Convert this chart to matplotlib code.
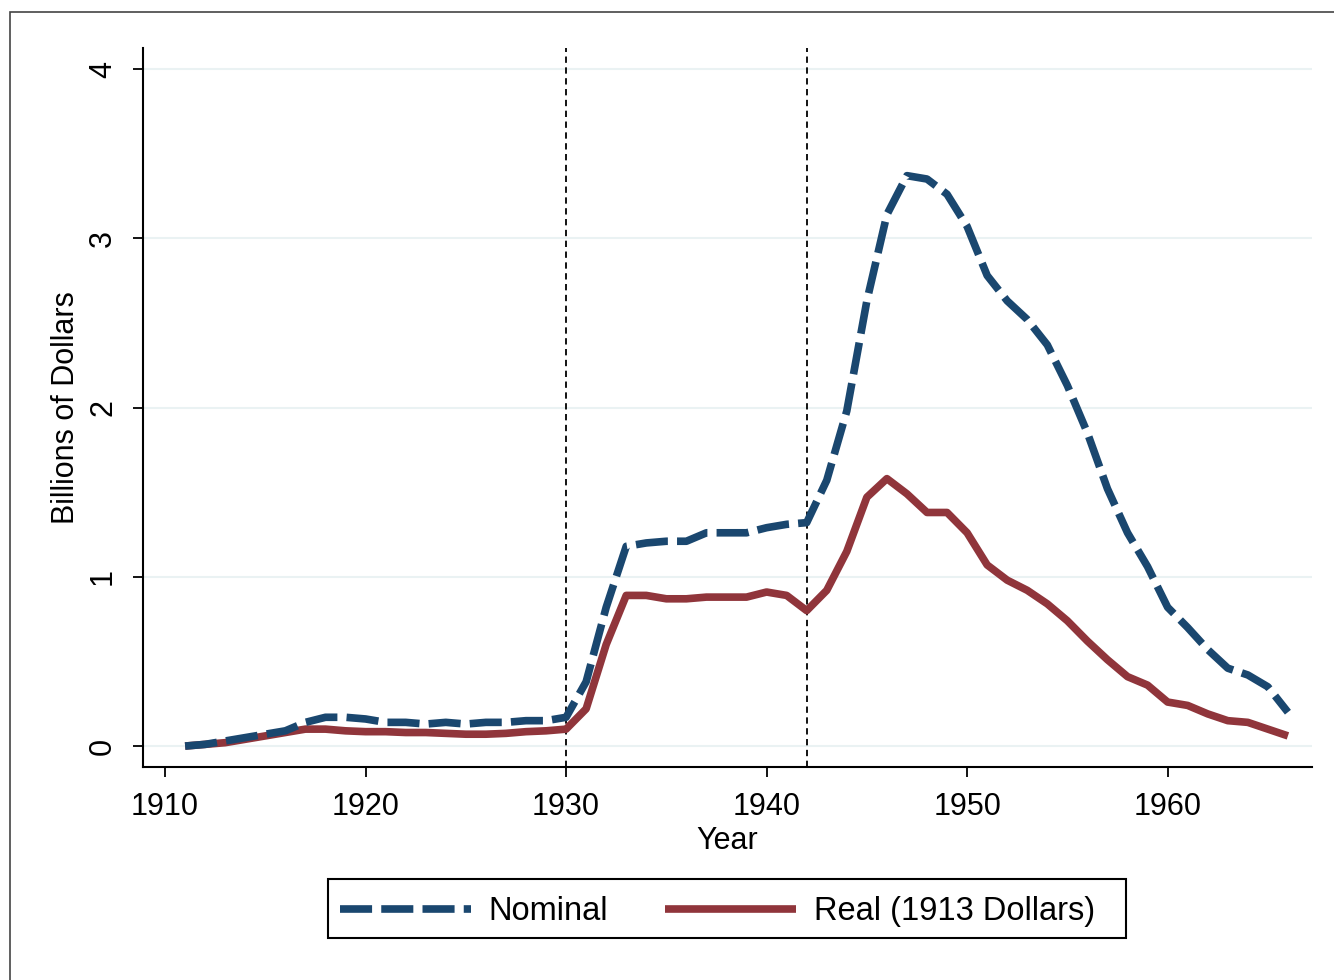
import matplotlib
matplotlib.use('Agg')
import matplotlib.pyplot as plt
from matplotlib.patches import Rectangle

# Data (billions of dollars)
years = list(range(1911, 1967))
nominal = [0.00, 0.01, 0.03, 0.05, 0.07, 0.09, 0.14, 0.17, 0.17, 0.16,
           0.14, 0.14, 0.13, 0.14, 0.13, 0.14, 0.14, 0.15, 0.15, 0.17,
           0.38, 0.82, 1.18, 1.20, 1.21, 1.21, 1.26, 1.26, 1.26, 1.29,
           1.31, 1.32, 1.57, 1.98, 2.63, 3.14, 3.37, 3.35, 3.26, 3.07,
           2.78, 2.63, 2.52, 2.37, 2.13, 1.85, 1.52, 1.26, 1.06, 0.82,
           0.70, 0.57, 0.46, 0.42, 0.35, 0.20]
real = [0.00, 0.01, 0.02, 0.04, 0.06, 0.08, 0.10, 0.10, 0.09, 0.085,
        0.085, 0.08, 0.08, 0.075, 0.07, 0.07, 0.075, 0.085, 0.09, 0.10,
        0.22, 0.60, 0.89, 0.89, 0.87, 0.87, 0.88, 0.88, 0.88, 0.91,
        0.89, 0.80, 0.92, 1.15, 1.47, 1.58, 1.49, 1.38, 1.38, 1.26,
        1.07, 0.98, 0.92, 0.84, 0.74, 0.62, 0.51, 0.41, 0.36, 0.26,
        0.24, 0.19, 0.15, 0.14, 0.10, 0.06]
event_years = [1930, 1942]
xticks = [1910, 1920, 1930, 1940, 1950, 1960]
yticks = [0, 1, 2, 3, 4]

plt.rcParams['font.family'] = ['Liberation Sans', 'DejaVu Sans']

W, H = 1334, 980
fig = plt.figure(figsize=(W / 100, H / 100), dpi=100)
ax = fig.add_axes([0.1072, 0.2173, 0.8763, 0.7337])

# outer frame around the graph region
fig.patches.append(Rectangle((10 / W, -0.05), 1.2, 1 - 12 / H + 0.05,
                             transform=fig.transFigure, fill=False,
                             edgecolor='#444444', linewidth=1.2))

for y in yticks:
    ax.axhline(y, color='#eaf2f3', linewidth=1.5, zorder=0)
for x in event_years:
    ax.axvline(x, color='black', linewidth=1.3, linestyle=(0, (3.5, 2.5)), zorder=1)

ax.plot(years, nominal, color='#1a476f', linewidth=5.5,
        linestyle=(0, (4.2, 1.2)), dash_capstyle='butt', label='Nominal', zorder=3)
ax.plot(years, real, color='#90353b', linewidth=5.5,
        solid_capstyle='butt', label='Real (1913 Dollars)', zorder=2)

ax.set_xlim(1908.9, 1967.2)
ax.set_ylim(-0.124, 4.124)
ax.set_xticks(xticks)
ax.set_yticks(yticks)
ax.tick_params(axis='both', direction='out', length=7, width=1.3, labelsize=22, pad=11)
for lab in ax.get_yticklabels():
    lab.set_rotation(90)
    lab.set_va('center')

for s in ['top', 'right']:
    ax.spines[s].set_visible(False)
for s in ['left', 'bottom']:
    ax.spines[s].set_linewidth(1.5)

ax.set_xlabel('Year', fontsize=22, labelpad=3)
ax.set_ylabel('Billions of Dollars', fontsize=22, labelpad=5)

# legend without its own frame; Stata-style box (extra room on the right) drawn separately
handles, labels = ax.get_legend_handles_labels()
leg = fig.legend(handles, labels, loc='center left',
                 bbox_to_anchor=(340 / W, 1 - 911.5 / H), ncol=2,
                 fontsize=23.5, frameon=False, handlelength=4.0,
                 columnspacing=1.75, handletextpad=0.55, borderpad=0,
                 borderaxespad=0)
fig.patches.append(Rectangle((328 / W, 1 - 938 / H), 798 / W, 59 / H,
                             transform=fig.transFigure, fill=False,
                             edgecolor='black', linewidth=1.5))

fig.savefig('out.png', dpi=100, facecolor='white')
